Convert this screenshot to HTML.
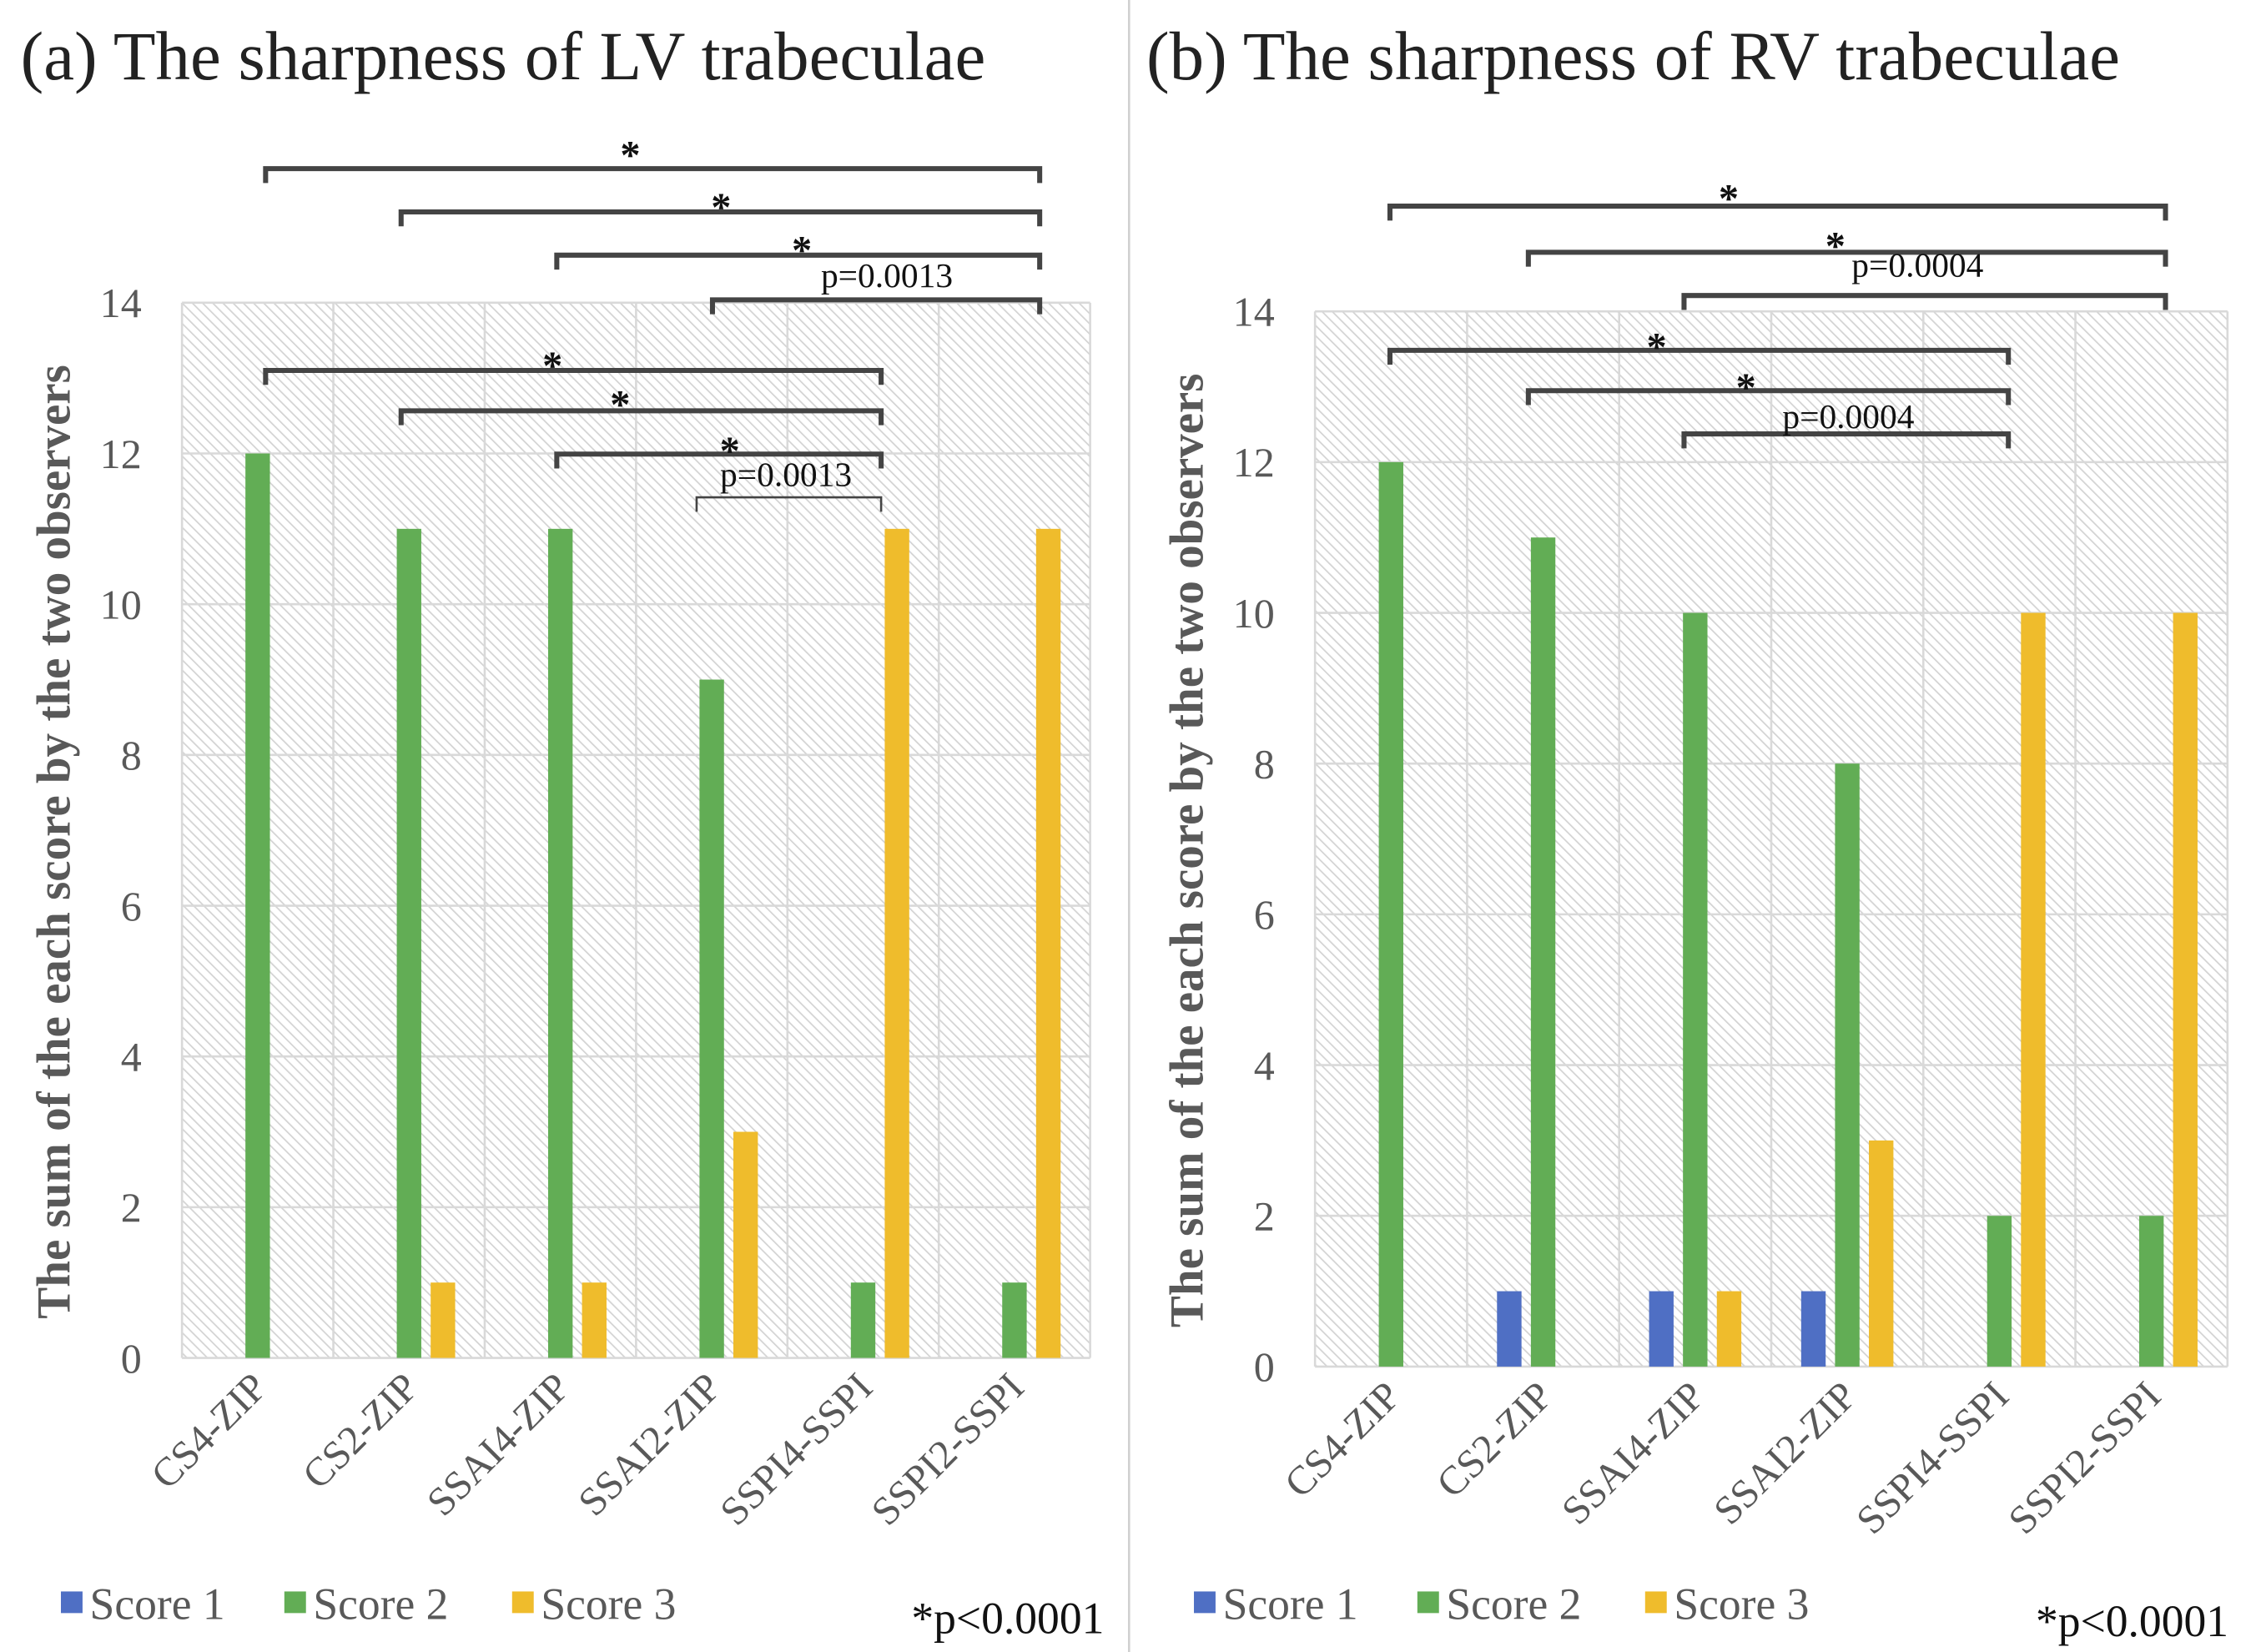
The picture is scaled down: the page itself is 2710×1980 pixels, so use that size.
<!DOCTYPE html>
<html><head><meta charset="utf-8"><style>
html,body{margin:0;padding:0;background:#fff;}
svg{display:block;}
text{font-family:"Liberation Serif",serif;}
</style></head><body>
<svg id="fig" xmlns="http://www.w3.org/2000/svg" width="2710" height="1980" viewBox="0 0 1568 1146">
<defs>
<pattern id="hatch" patternUnits="userSpaceOnUse" width="5" height="5" patternTransform="rotate(-45)">
<rect width="5" height="5" fill="#ffffff"/>
<line x1="0" y1="0" x2="0" y2="5" stroke="#d3d3d3" stroke-width="2"/>
</pattern>
</defs>
<line x1="783" y1="0" x2="783" y2="1146" stroke="#d0d0d0" stroke-width="1.5"/>
<text x="14" y="55" font-size="48" fill="#222">(a) The sharpness of LV trabeculae</text>
<text x="795" y="55" font-size="48" fill="#222">(b) The sharpness of RV trabeculae</text>
<g id="panelA"></g>
<g id="panelB"></g>
<g id="ann"></g>
</svg>
<script>
const categories = ["CS4-ZIP","CS2-ZIP","SSAI4-ZIP","SSAI2-ZIP","SSPI4-SSPI","SSPI2-SSPI"];
const lvScore1 = [0,0,0,0,0,0];
const lvScore2 = [12,11,11,9,1,1];
const lvScore3 = [0,1,1,3,11,11];
const rvScore1 = [0,1,1,1,0,0];
const rvScore2 = [12,11,10,8,2,2];
const rvScore3 = [0,0,1,3,10,10];
const yTicks = [0,2,4,6,8,10,12,14];
const seriesNames = ["Score 1","Score 2","Score 3"];
const colors = ["#4f6fc4","#62ad55","#efbc2c"];
const NS = "http://www.w3.org/2000/svg";
function mk(tag, attrs, parent){const e=document.createElementNS(NS,tag);for(const k in attrs)e.setAttribute(k,attrs[k]);parent.appendChild(e);return e;}

function drawPanel(g, L, R, T, B, series, legendX, sigX, sigY){
  const yMax=14;
  const y=v=>B-(v/yMax)*(B-T);
  const cw=(R-L)/categories.length;
  const xc=i=>L+cw*(i+0.5);
  const pa=mk('rect',{x:L,y:T,width:R-L,height:B-T,fill:'url(#hatch)'},g);
  
  
  yTicks.forEach(t=>{
    const gl=mk('line',{x1:L,x2:R,y1:y(t),y2:y(t),stroke:'#d9d9d9','stroke-width':1.5},g);
    
    
    const tl=mk('text',{x:L-28,y:y(t)+10,'font-size':29,fill:'#595959','text-anchor':'end'},g);
    tl.textContent=t;
    
    
  });
  for(let i=0;i<=categories.length;i++){
    const vl=mk('line',{x1:L+cw*i,x2:L+cw*i,y1:T,y2:B,stroke:'#d9d9d9','stroke-width':1.5},g);
    
    
  }
  const bw=17, off=23.5;
  series.forEach((s,si)=>{
    s.forEach((v,i)=>{
      if(v<=0) return;
      const cx=xc(i)+(si-1)*off;
      const b=mk('rect',{x:cx-bw/2,y:y(v),width:bw,height:B-y(v),fill:colors[si]},g);
      
      
    });
  });
  categories.forEach((c,i)=>{
    const tx=xc(i)+8, ty=B+22;
    const t=mk('text',{x:tx,y:ty,'font-size':28,fill:'#595959','text-anchor':'end',transform:`rotate(-45 ${tx} ${ty})`},g);
    t.textContent=c;
    
    
  });
  const at=mk('text',{x:0,y:0,'font-size':33,'font-weight':'bold',fill:'#595959','text-anchor':'middle',transform:`translate(${L-78} ${(T+B)/2+8}) rotate(-90)`},g);
  at.textContent="The sum of the each score by the two observers";
  
  
  const lx=[0,155,313];
  seriesNames.forEach((n,si)=>{
    const sw=mk('rect',{x:legendX+lx[si],y:1104,width:15,height:15,fill:colors[si]},g);
    
    
    const lt=mk('text',{x:legendX+lx[si]+20,y:1123,'font-size':31,fill:'#595959'},g);
    lt.textContent=n;
    
    
  });
  const sig=mk('text',{x:sigX,y:sigY,'font-size':31,fill:'#111'},g);
  sig.textContent="*p<0.0001";
  
  
}
drawPanel(document.getElementById('panelA'),126,756,210,942,[lvScore1,lvScore2,lvScore3],42,632,1133);
drawPanel(document.getElementById('panelB'),912,1545,216,948,[rvScore1,rvScore2,rvScore3],828,1412,1135);

const brackets = [
 [184,721,117,"*",437,103],[278,721,147,"*",500,139],[386,721,177,"*",556,169],[494,721,208,"p=0.0013",615,199],
 [184,611,257,"*",383,249],[278,611,285,"*",430,276],[386,611,315,"*",506,308],[483,611,345,"p=0.0013",545,337],
 [964,1502,143,"*",1199,133],[1060,1502,175,"*",1273,166],[1168,1502,205,"p=0.0004",1330,192],
 [964,1393,243,"*",1149,236],[1060,1393,271,"*",1211,264],[1168,1393,301,"p=0.0004",1282,297]
];
const ann=document.getElementById('ann');
brackets.forEach(b=>{
  const thin=b[3]==="p=0.0013"&&b[2]===345;
  const p=mk('path',{d:`M${b[0]} ${b[2]+10} V${b[2]} H${b[1]} V${b[2]+10}`,fill:'none',stroke:'#444','stroke-width':thin?1.5:3.5},ann);
  
  
  const star=b[3]==="*";
  const t=mk('text',{x:b[4],y:b[5]+(star?14:0),'font-size':star?28:24,'font-weight':star?'bold':'normal',fill:'#111','text-anchor':'middle'},ann);
  t.textContent=b[3];
  
  
});
</script>
</body></html>
